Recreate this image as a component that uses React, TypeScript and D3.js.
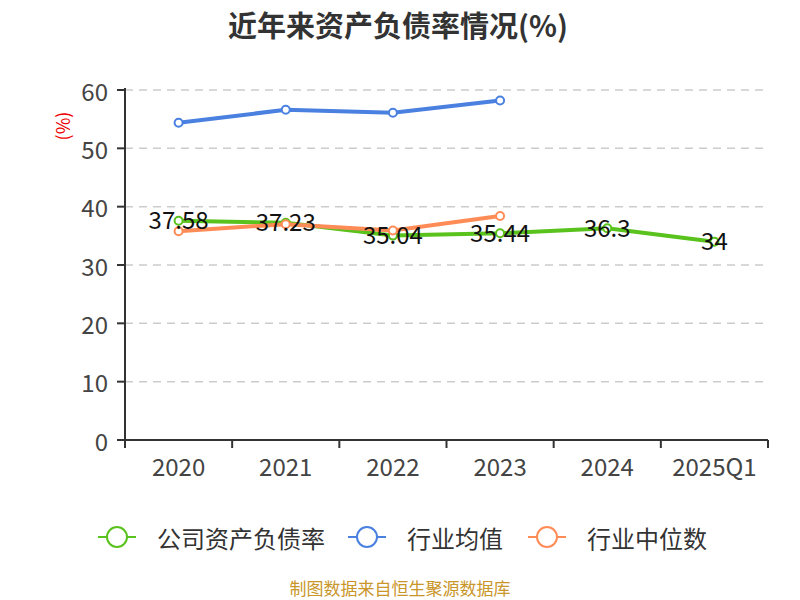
import * as d3 from 'd3';
import React from 'react';

const years = ['2020', '2021', '2022', '2023', '2024', '2025Q1'];
const companyRatio = [37.58, 37.23, 35.04, 35.44, 36.3, 34];
const industryAvg = [54.4, 56.6, 56.1, 58.2];
const industryMedian = [35.8, 37.0, 35.9, 38.4];
const yTicks = [0, 10, 20, 30, 40, 50, 60];
const seriesNames = ['公司资产负债率', '行业均值', '行业中位数'];
const seriesColors = ['#5ac21d', '#4a80e0', '#ff8c57'];

const W = 800;
const H = 600;
const FONT = '"Noto Sans CJK SC", "Noto Sans", sans-serif';

const App: React.FC = () => {
    const left = 125;
    const right = 768;
    const top = 90;
    const bottom = 440;

    const x = d3.scaleBand<string>().domain(years).range([left, right]);
    const y = d3.scaleLinear().domain([0, 60]).range([bottom, top]);
    const cx = (yr: string) => (x(yr) as number) + x.bandwidth() / 2;

    const line = d3
        .line<number>()
        .x((_, i) => cx(years[i]))
        .y((d) => y(d));

    const series = [companyRatio, industryAvg, industryMedian];
    const drawOrder = [1, 0, 2];

    const legendX = [98, 348, 528];

    return (
        <svg width={W} height={H} style={{ position: 'absolute', left: 0, top: 0 }} fontFamily={FONT}>
            <rect width={W} height={H} fill="#fff" />
            <text x={398} y={24} textAnchor="middle" dominantBaseline="central" fontSize={29} fontWeight="bold" fill="#333">
                近年来资产负债率情况(%)
            </text>
            <text
                transform={`translate(62,126) rotate(-90)`}
                textAnchor="middle"
                dominantBaseline="central"
                fontSize={18}
                fill="#e00"
            >
                (%)
            </text>

            {yTicks.map((t) => (
                <g key={t}>
                    {t > 0 && (
                        <line x1={left} x2={right} y1={y(t)} y2={y(t)} stroke="#ccc" strokeWidth={1.5} strokeDasharray="8,6" />
                    )}
                    <line x1={left - 8} x2={left} y1={y(t)} y2={y(t)} stroke="#333" strokeWidth={2} />
                    <text x={left - 17} y={y(t)} textAnchor="end" dominantBaseline="central" fontSize={24} fill="#444">
                        {t}
                    </text>
                </g>
            ))}

            <line x1={left} x2={left} y1={top - 2} y2={bottom + 8} stroke="#333" strokeWidth={2} />
            <line x1={left} x2={right} y1={bottom} y2={bottom} stroke="#333" strokeWidth={2} />
            {[...years.map((yr) => x(yr) as number), right].map((px, i) => (
                <line key={i} x1={px} x2={px} y1={bottom} y2={bottom + 8} stroke="#333" strokeWidth={2} />
            ))}
            {years.map((yr) => (
                <text key={yr} x={cx(yr)} y={bottom + 25} textAnchor="middle" dominantBaseline="central" fontSize={24} fill="#444">
                    {yr}
                </text>
            ))}

            {drawOrder.map((si) => (
                <g key={si}>
                    <path d={line(series[si]) || ''} fill="none" stroke={seriesColors[si]} strokeWidth={4} />
                    {series[si].map((v, i) => (
                        <circle key={i} cx={cx(years[i])} cy={y(v)} r={4} fill="#fff" stroke={seriesColors[si]} strokeWidth={2} />
                    ))}
                </g>
            ))}

            {companyRatio.map((v, i) => (
                <text key={i} x={cx(years[i])} y={y(v) - 2} textAnchor="middle" dominantBaseline="central" fontSize={24} fill="#111">
                    {v}
                </text>
            ))}

            {seriesNames.map((name, i) => (
                <g key={name} transform={`translate(${legendX[i]},537)`}>
                    <line x1={0} x2={38} y1={0} y2={0} stroke={seriesColors[i]} strokeWidth={2} />
                    <circle cx={19} cy={0} r={10} fill="#fff" stroke={seriesColors[i]} strokeWidth={2} />
                    <text x={59} y={0} dominantBaseline="central" fontSize={24} fill="#333">
                        {name}
                    </text>
                </g>
            ))}

            <text x={400} y={587} textAnchor="middle" dominantBaseline="central" fontSize={17} fill="#c9962a">
                制图数据来自恒生聚源数据库
            </text>
        </svg>
    );
};

export default App;
